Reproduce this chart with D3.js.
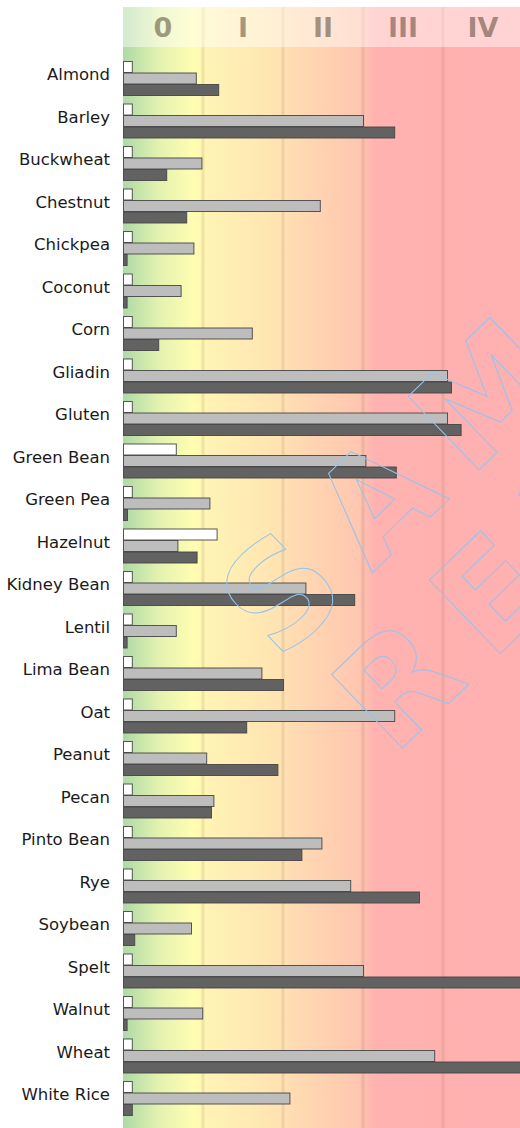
<!DOCTYPE html>
<html>
<head>
<meta charset="utf-8">
<script src="https://cdn.jsdelivr.net/npm/d3@7"></script>
<style>
  html, body { margin: 0; padding: 0; background: #fff; }
  svg { display: block; }
</style>
</head>
<body>
<div id="chart"></div>
<script>
// Food panel results, measured in class units (0 … V)
const categories = ["Almond", "Barley", "Buckwheat", "Chestnut", "Chickpea", "Coconut", "Corn",
  "Gliadin", "Gluten", "Green Bean", "Green Pea", "Hazelnut", "Kidney Bean", "Lentil",
  "Lima Bean", "Oat", "Peanut", "Pecan", "Pinto Bean", "Rye", "Soybean", "Spelt",
  "Walnut", "Wheat", "White Rice"];

const seriesA = [0.11, 0.11, 0.11, 0.11, 0.11, 0.11, 0.11, 0.11, 0.11, 0.66, 0.11, 1.17, 0.11,
  0.11, 0.11, 0.11, 0.11, 0.11, 0.11, 0.11, 0.11, 0.11, 0.11, 0.11, 0.11];
const seriesB = [0.91, 3.0, 0.98, 2.46, 0.88, 0.72, 1.61, 4.05, 4.05, 3.03, 1.08, 0.68, 2.28,
  0.66, 1.73, 3.39, 1.04, 1.13, 2.48, 2.84, 0.85, 3.0, 0.99, 3.89, 2.08];
const seriesC = [1.19, 3.39, 0.54, 0.79, 0.045, 0.045, 0.44, 4.1, 4.22, 3.41, 0.05, 0.92, 2.89,
  0.045, 2.0, 1.54, 1.93, 1.1, 2.23, 3.7, 0.14, 5.5, 0.045, 5.5, 0.11];

const classLabels = ["0", "I", "II", "III", "IV"];
const seriesKeys = ["a", "b", "c"];
const seriesFill = { a: "#ffffff", b: "#bdbdbd", c: "#626262" };

const W = 520, H = 1128;
const plotLeft = 123, headTop = 7, headBottom = 47;

const svg = d3.select("#chart").append("svg")
  .attr("width", W).attr("height", H);

const x = d3.scaleLinear().domain([0, 5]).range([plotLeft, plotLeft + 400]);
const y = d3.scaleBand().domain(categories).range([52, 52 + categories.length * 42.5]);
const ySub = d3.scaleBand().domain(seriesKeys).range([9, 9 + 34.5]);

// background gradient across the classes
const defs = svg.append("defs");
const grad = defs.append("linearGradient").attr("id", "bg")
  .attr("gradientUnits", "userSpaceOnUse")
  .attr("x1", plotLeft).attr("x2", W).attr("y1", 0).attr("y2", 0);
[
  [plotLeft, "#aed9a6"],
  [x(0.45), "#e4f2b0"],
  [x(0.88), "#fffdb2"],
  [x(1.05), "#fff4b4"],
  [x(2.0), "#ffe2b2"],
  [x(2.1), "#ffdcb2"],
  [x(2.95), "#ffc6b0"],
  [x(3.15), "#ffb2b0"],
  [W, "#ffb0b0"]
].forEach(([px, c]) => {
  grad.append("stop").attr("offset", (px - plotLeft) / (W - plotLeft)).attr("stop-color", c);
});

svg.append("rect")
  .attr("x", plotLeft).attr("y", headTop)
  .attr("width", W - plotLeft).attr("height", H - headTop)
  .attr("fill", "url(#bg)");

// class boundaries
svg.append("g").selectAll("line")
  .data(d3.range(1, 5))
  .join("line")
  .attr("x1", d => x(d)).attr("x2", d => x(d))
  .attr("y1", headTop).attr("y2", H)
  .attr("stroke", "rgba(120,80,60,0.12)")
  .attr("stroke-width", 3);

// header band with class names
svg.append("rect")
  .attr("x", plotLeft).attr("y", headTop)
  .attr("width", W - plotLeft).attr("height", headBottom - headTop)
  .attr("fill", "#ffffff").attr("opacity", 0.45);

svg.append("g").selectAll("text")
  .data(classLabels)
  .join("text")
  .attr("x", (d, i) => x(i + 0.5))
  .attr("y", 37)
  .attr("text-anchor", "middle")
  .attr("font-family", "DejaVu Sans, sans-serif")
  .attr("font-weight", "bold")
  .attr("font-size", 27)
  .attr("fill", "#4a3a2a")
  .attr("fill-opacity", 0.5)
  .text(d => d);

// category labels
svg.append("g").selectAll("text")
  .data(categories)
  .join("text")
  .attr("x", 110)
  .attr("y", d => y(d) + 28)
  .attr("text-anchor", "end")
  .attr("font-family", "DejaVu Sans, sans-serif")
  .attr("font-size", 16.5)
  .attr("fill", "#1a1a1a")
  .text(d => d);

// grouped bars
const rows = categories.map((c, i) => ({ cat: c, a: seriesA[i], b: seriesB[i], c: seriesC[i] }));
const groups = svg.append("g").selectAll("g")
  .data(rows)
  .join("g")
  .attr("transform", d => `translate(0,${y(d.cat)})`);

groups.selectAll("rect")
  .data(d => seriesKeys.map(k => ({ key: k, value: d[k] })))
  .join("rect")
  .attr("x", x(0) + 0.5)
  .attr("y", d => ySub(d.key) + 0.5)
  .attr("width", d => x(d.value) - x(0))
  .attr("height", ySub.bandwidth() - 0.5)
  .attr("fill", d => seriesFill[d.key])
  .attr("stroke", "#454545")
  .attr("stroke-opacity", 0.9)
  .attr("stroke-width", 1);

// outlined watermark
const wm = svg.append("g")
  .attr("transform", "translate(279,663) rotate(-44)")
  .attr("font-family", "DejaVu Sans, sans-serif")
  .attr("font-weight", "bold")
  .attr("font-size", 140)
  .attr("fill", "none")
  .attr("stroke", "#94c4ec")
  .attr("stroke-width", 1)
  .attr("letter-spacing", 28);
wm.append("text").attr("x", 0).attr("y", 0).text("SAMPLE");
wm.append("text").attr("x", 17).attr("y", 147).text("REPORT");
</script>
</body>
</html>
